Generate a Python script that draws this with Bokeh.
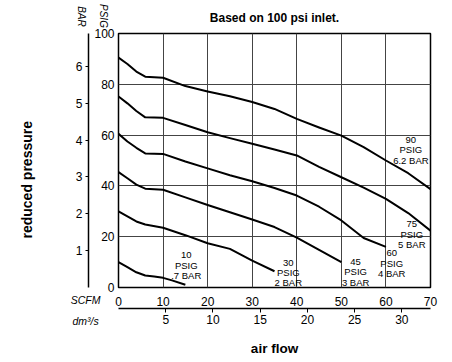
import math
from bokeh.plotting import figure
from bokeh.models import LinearAxis, Range1d, FixedTicker, Label, ColumnDataSource, Title
from bokeh.core.properties import value
from bokeh.embed import file_html
from bokeh.resources import INLINE

# ---------------- data ----------------
flow_90 = [0, 2, 4, 6, 10, 15, 20, 25, 30, 35, 40, 45, 50, 55, 60, 65, 70]
psig_90 = [90.5, 88, 85, 83, 82.6, 79.3, 77.2, 75.3, 73, 70.3, 66.4, 63, 59.8, 55.3, 50, 45, 38.7]

flow_75 = [0, 2, 4, 6, 10, 15, 20, 25, 30, 35, 40, 45, 50, 55, 60, 65, 70]
psig_75 = [75.2, 72.5, 69.5, 67, 66.8, 64, 61.1, 58.8, 56.6, 54.3, 52, 47.5, 43.4, 39.3, 34.9, 29.3, 22.4]

flow_60 = [0, 2, 4, 6, 10, 15, 20, 25, 30, 35, 40, 45, 50, 55, 60]
psig_60 = [60.5, 57.5, 55, 52.8, 52.6, 49.6, 46.9, 44.2, 41.8, 39.2, 36.2, 31.8, 26.4, 19.5, 16]

flow_45 = [0, 2, 4, 6, 10, 15, 20, 25, 30, 35, 40, 45, 50]
psig_45 = [45.4, 43, 40.5, 38.9, 38.5, 35.5, 32.5, 29.6, 26.8, 23.8, 19.6, 14.8, 10]

flow_30 = [0, 2, 4, 6, 10, 15, 20, 25, 30, 35]
psig_30 = [30, 28, 26, 24.8, 23.5, 20.6, 17.4, 15.2, 10.6, 6.4]

flow_10 = [0, 2, 4, 6, 8, 10, 12, 15]
psig_10 = [10, 8, 6, 4.7, 4.3, 3.8, 2.8, 1.1]

curve_labels = ["90\nPSIG\n6.2 BAR", "75\nPSIG\n5 BAR", "60\nPSIG\n4 BAR",
                "45\nPSIG\n3 BAR", "30\nPSIG\n2 BAR", "10\nPSIG\n.7 BAR"]
label_flow = [65.6, 65.8, 61.3, 53.2, 38.1, 15.2]
label_psig = [54.2, 21.0, 9.5, 6.1, 5.9, 8.7]

psig_ticks = [0, 20, 40, 60, 80, 100]
bar_ticks = [1, 2, 3, 4, 5, 6]
scfm_ticks = [0, 10, 20, 30, 40, 50, 60, 70]
dm3_ticks = [5, 10, 15, 20, 25, 30]
grid_x = [10, 20, 30, 40, 50, 60]
grid_y = [20, 40, 60, 80]

PSIG_PER_BAR = 14.5038
DM3S_PER_SCFM = 0.47195

FONT = "Liberation Sans"
W, H = 444, 362

# ---------------- figure ----------------
p = figure(width=W, height=H, x_range=Range1d(0, 70), y_range=Range1d(0, 100),
           output_backend="svg", toolbar_location=None,
           min_border_left=118, min_border_right=14, min_border_top=33, min_border_bottom=75)
p.background_fill_color = "white"
p.border_fill_color = "white"
p.outline_line_color = "black"
p.outline_line_width = 1.5

p.title = Title(text="Based on 100 psi inlet.", align="center", text_font=FONT,
                text_font_size="12px", text_font_style="bold", text_color="black", standoff=17)

p.extra_y_ranges = {"bar": Range1d(0, 100 / PSIG_PER_BAR)}
p.extra_x_ranges = {"dm3": Range1d(0, 70 * DM3S_PER_SCFM)}

# PSIG axis (default left)
ya = p.yaxis[0]
ya.ticker = FixedTicker(ticks=psig_ticks)
ya.axis_line_color = None
ya.major_tick_out = 0
ya.major_tick_in = 0
ya.minor_tick_line_color = None
ya.major_label_standoff = 4
ya.major_label_text_font = FONT
ya.major_label_text_font_size = "12px"
ya.major_label_text_color = "black"
ya.axis_label = " "                      # empty label only widens the axis panel
ya.axis_label_text_font_size = "2px"
ya.axis_label_standoff = -2

# BAR axis
bar_axis = LinearAxis(y_range_name="bar", ticker=FixedTicker(ticks=bar_ticks))
bar_axis.axis_line_width = 1.5
bar_axis.axis_line_color = "black"
bar_axis.major_tick_out = 3
bar_axis.major_tick_in = 0
bar_axis.minor_tick_line_color = None
bar_axis.major_label_standoff = 3
bar_axis.major_label_text_font = FONT
bar_axis.major_label_text_font_size = "12px"
bar_axis.major_label_text_color = "black"
p.add_layout(bar_axis, "left")

# SCFM axis (default below)
xa = p.xaxis[0]
xa.ticker = FixedTicker(ticks=scfm_ticks)
xa.axis_line_color = None
xa.major_tick_out = 0
xa.major_tick_in = 0
xa.minor_tick_line_color = None
xa.major_label_standoff = 9
xa.major_label_text_font = FONT
xa.major_label_text_font_size = "12px"
xa.major_label_text_color = "black"

# dm3/s axis
dm_axis = LinearAxis(x_range_name="dm3", ticker=FixedTicker(ticks=dm3_ticks))
dm_axis.axis_line_width = 1.5
dm_axis.axis_line_color = "black"
dm_axis.major_tick_out = 4
dm_axis.major_tick_in = 0
dm_axis.minor_tick_line_color = None
dm_axis.major_label_standoff = 2
dm_axis.major_label_text_font = FONT
dm_axis.major_label_text_font_size = "12px"
dm_axis.major_label_text_color = "black"
p.add_layout(dm_axis, "below")


# unit captions, placed in the side panels (data units of the main ranges)
def caption(x, y, text, size, place, angle=0.0):
    p.add_layout(Label(x=x, y=y, text=text, text_font=FONT, text_font_size=size,
                       text_font_style="italic", text_align="center", text_baseline="middle",
                       angle=angle, text_color="black"), place)


caption(-3.35, 106.9, "PSIG", "10px", "left", -math.pi / 2)
caption(-7.4, -13.0, "dm\u00b3/s", "10.5px", "left")
caption(-7.4, -5.1, "SCFM", "10.5px", "below")

p.add_layout(Title(text="air flow", align="center", text_font=FONT, text_font_size="13.5px",
                   text_font_style="bold", text_color="black", standoff=0), "below")
p.add_layout(Title(text="reduced pressure", align="left", text_font=FONT, text_font_size="14px",
                   text_font_style="bold", text_color="black", standoff=2, offset=49), "left")

caption(-8.4, 106.7, "BAR", "10px", "left", -math.pi / 2)

# grid
p.xgrid.ticker = FixedTicker(ticks=grid_x)
p.ygrid.ticker = FixedTicker(ticks=grid_y)
p.xgrid.grid_line_color = "#444444"
p.ygrid.grid_line_color = "#444444"
p.xgrid.grid_line_width = 1
p.ygrid.grid_line_width = 1

# curves
for fx, fy in [(flow_90, psig_90), (flow_75, psig_75), (flow_60, psig_60),
               (flow_45, psig_45), (flow_30, psig_30), (flow_10, psig_10)]:
    p.line(fx, fy, line_color="black", line_width=2, line_join="round")

src = ColumnDataSource(dict(x=label_flow, y=label_psig, t=curve_labels))
p.text(x="x", y="y", text="t", source=src, text_font=value(FONT), text_font_size="9.5px",
       text_align="center", text_baseline="middle", text_line_height=0.95, text_color="black")

open("out.html", "w").write(file_html(p, INLINE))
